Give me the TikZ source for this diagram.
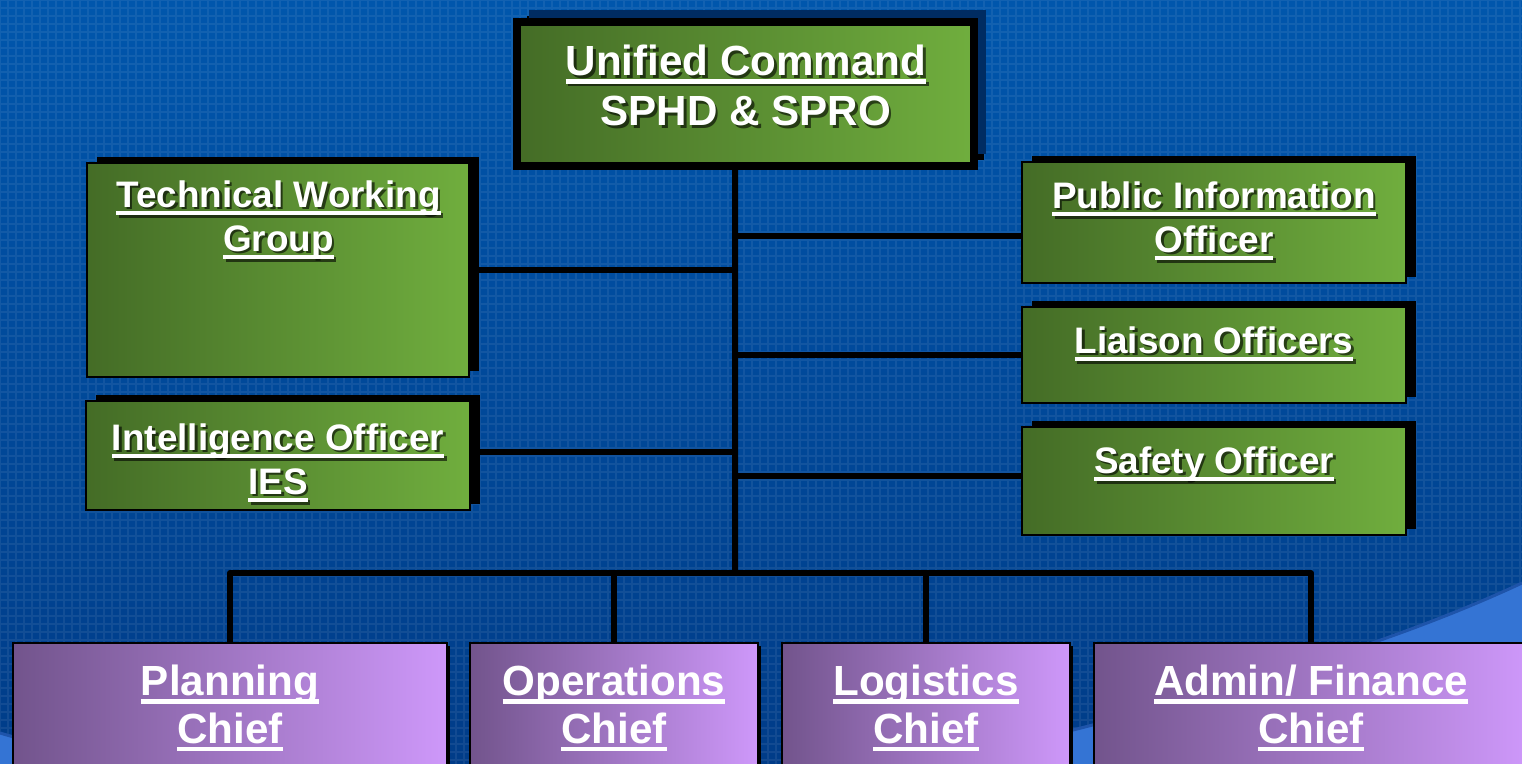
\documentclass[tikz,border=0pt]{standalone}
\usepackage{fontspec}
\setmainfont{Liberation Sans}
\usepackage{tikz}
\usetikzlibrary{shadows,fit}
\definecolor{gdark}{RGB}{68,108,38}
\definecolor{glight}{RGB}{112,174,62}
\definecolor{pdark}{RGB}{114,84,140}
\definecolor{plight}{RGB}{206,152,250}
\definecolor{bgtop}{RGB}{0,86,172}
\definecolor{bgbot}{RGB}{0,60,136}
\definecolor{navyshadow}{RGB}{0,44,98}
\definecolor{swoosh}{RGB}{52,116,212}
\definecolor{swooshedge}{RGB}{30,84,170}
\newcommand\uln[1]{\setbox0\hbox{#1}\rlap{\rule[-4.6pt]{\wd0}{2.6pt}}\box0}
\newcommand\shlabel[4][]{%
  \node[lbl, #1, text=black, opacity=.6] (#2s) at ([shift={(0.05cm,-0.05cm)}]#3) {#4};
  \node[lbl, #1] (#2) at (#3) {#4};}

\begin{document}
\begin{tikzpicture}[x=0.02cm, y=-0.02cm,
  wire/.style={line width=0.12cm, line join=round},
  box/.style={rectangle, draw=black, line width=0.04cm, inner sep=0pt, left color=gdark, right color=glight,
    drop shadow={shadow xshift=0.2cm, shadow yshift=0.12cm, fill=black, opacity=1}},
  ucbox/.style={box, line width=0.16cm,
    drop shadow={shadow xshift=0.24cm, shadow yshift=0.24cm, fill=navyshadow, opacity=1}},
  chief/.style={rectangle, draw=black, line width=0.04cm, inner sep=0pt, left color=pdark, right color=plight,
    drop shadow={shadow xshift=0.06cm, shadow yshift=-0.06cm, fill=black, opacity=1}},
  lbl/.style={text=white, align=center, anchor=north, inner sep=0pt, font=\bfseries\fontsize{21}{25}\selectfont},
  big/.style={font=\bfseries\fontsize{24}{28.3}\selectfont},
  clbl/.style={lbl, font=\bfseries\fontsize{24}{27}\selectfont}]
  \useasboundingbox (0,0) rectangle (1522,764);
  \clip (0,0) rectangle (1522,764);
  \shade[top color=bgtop, bottom color=bgbot] (0,0) rectangle (1522,764);
  \draw[white, opacity=.07, line width=0.04cm, step=0.16cm] (0,0) grid (1522,764);
  \fill[swoosh] (0,733) .. controls (250,808) and (800,800) .. (1073,730)
    .. controls (1250,685) and (1400,640) .. (1522,583) -- (1522,764) -- (0,764) -- cycle;
  \draw[swooshedge, line width=0.06cm] (0,733) .. controls (250,808) and (800,800) .. (1073,730)
    .. controls (1250,685) and (1400,640) .. (1522,583);

  \node[ucbox, fit={(517,22) (974,166)}] (uc) {};
  \node[box, fit={(87,163) (469,377)}] (twg) {};
  \node[box, fit={(86,401) (470,510)}] (ies) {};
  \node[box, fit={(1022,162) (1406,283)}] (pio) {};
  \node[box, fit={(1022,307) (1406,403)}] (lia) {};
  \node[box, fit={(1022,427) (1406,535)}] (saf) {};
  \node[chief, fit={(13,643) (447,800)}] (plan) {};
  \node[chief, fit={(470,643) (758,800)}] (ops) {};
  \node[chief, fit={(782,643) (1070,800)}] (log) {};
  \node[chief, fit={(1094,643) (1528,800)}] (adm) {};

  \shlabel[big]{uctext}{746,45}{\uln{Unified Command}\\SPHD \& SPRO}
  \shlabel{twgtext}{278.5,180}{\uln{Technical Working}\\\uln{Group}}
  \shlabel{iestext}{278,423}{\uln{Intelligence Officer}\\\uln{IES}}
  \shlabel{piotext}{1214,181}{\uln{Public Information}\\\uln{Officer}}
  \shlabel{liatext}{1214,326}{\uln{Liaison Officers}}
  \shlabel{saftext}{1214,446}{\uln{Safety Officer}}
  \node[clbl] (plantext) at (230,665) {\uln{Planning}\\\uln{Chief}};
  \node[clbl] (opstext) at (614,665) {\uln{Operations}\\\uln{Chief}};
  \node[clbl] (logtext) at (926,665) {\uln{Logistics}\\\uln{Chief}};
  \node[clbl] (admtext) at (1311,665) {\uln{Admin/ Finance}\\\uln{Chief}};

  \coordinate (hub) at (735,573);
  \draw[wire] ([xshift=-0.21cm]uc.south) -- (hub);
  \draw[wire] (twg.east) -- (twg.east -| hub);
  \draw[wire] ([yshift=0.07cm]ies.east) -- ([yshift=0.07cm]ies.east -| hub);
  \draw[wire] ([yshift=-0.27cm]pio.west) -- ([yshift=-0.27cm]pio.west -| hub);
  \draw[wire] (lia.west) -- (lia.west -| hub);
  \draw[wire] ([yshift=0.1cm]saf.west) -- ([yshift=0.1cm]saf.west -| hub);
  \draw[wire] (plan.north) -- (plan.north |- hub) -- (adm.north |- hub) -- (adm.north);
  \draw[wire] (ops.north) -- (ops.north |- hub);
  \draw[wire] (log.north) -- (log.north |- hub);
\end{tikzpicture}
\end{document}
